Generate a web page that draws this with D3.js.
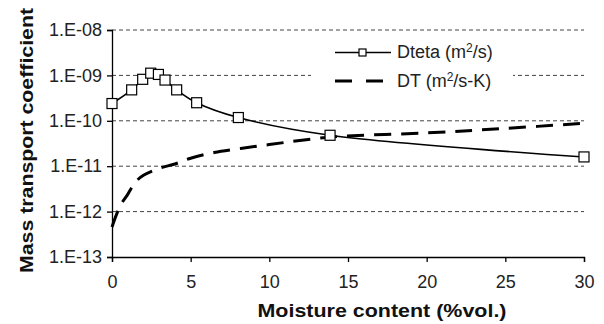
<!DOCTYPE html>
<html><head><meta charset="utf-8">
<script src="https://cdn.jsdelivr.net/npm/d3@7/dist/d3.min.js"></script>
<style>body{margin:0;background:#fff}svg{display:block}text{font-family:"Liberation Sans",Arial,sans-serif}</style>
</head><body><svg id="c" width="604" height="324"></svg>
<script>
const dtetaX = [0, 1.25, 1.95, 2.46, 2.95, 3.37, 4.11, 5.38, 8.03, 13.86, 30];
const dtetaY = [2.4e-10, 4.8e-10, 8.2e-10, 1.12e-9, 1.05e-9, 7.9e-10, 4.8e-10, 2.5e-10, 1.18e-10, 4.8e-11, 1.6e-11];
const dtX = [0, 0.5, 1, 1.5, 2, 3, 4, 5, 6.5, 8, 10, 14, 20, 25, 30];
const dtY = [4.6e-13, 1.3e-12, 2.4e-12, 4.5e-12, 6.3e-12, 9e-12, 1.12e-11, 1.5e-11, 2.0e-11, 2.4e-11, 3.0e-11, 4.4e-11, 5.4e-11, 6.8e-11, 8.8e-11];
const xTicks = [0, 5, 10, 15, 20, 25, 30];
const yTicks = [1e-13, 1e-12, 1e-11, 1e-10, 1e-9, 1e-8];
const yTickLabels = ["1.E-13", "1.E-12", "1.E-11", "1.E-10", "1.E-09", "1.E-08"];

const svg = d3.select("#c");
const L = 112, R = 584, T = 30, B = 257;
const x = d3.scaleLinear().domain([0, 30]).range([L, R]);
const y = d3.scaleLog().domain([1e-13, 1e-8]).range([B, T]);

// gridlines
svg.append("g").selectAll("line").data(yTicks.slice(1)).join("line")
  .attr("x1", L).attr("x2", R).attr("y1", d => y(d)).attr("y2", d => y(d))
  .attr("stroke", "#444").attr("stroke-width", 1).attr("stroke-dasharray", "4,3");

// axes
const yAxis = svg.append("g").attr("transform", `translate(${L},0)`)
  .call(d3.axisLeft(y).tickValues(yTicks).tickFormat((d, i) => yTickLabels[i]).tickSize(5).tickPadding(5));
const xAxis = svg.append("g").attr("transform", `translate(0,${B})`)
  .call(d3.axisBottom(x).tickValues(xTicks).tickSize(5).tickPadding(13));
[yAxis, xAxis].forEach(a => {
  a.select(".domain").attr("stroke", "#000").attr("stroke-width", 1.3);
  a.selectAll(".tick line").attr("stroke", "#000").attr("stroke-width", 1.3);
  a.selectAll(".tick text").attr("font-size", 18).attr("fill", "#222")
   .attr("font-family", '"Liberation Sans",Arial,sans-serif');
});

// DT dashed
const dtData = dtX.map((v, i) => [v, dtY[i]]);
svg.append("path").datum(dtData)
  .attr("d", d3.line().x(d => x(d[0])).y(d => y(d[1])).curve(d3.curveCatmullRom.alpha(0.5)))
  .attr("fill", "none").attr("stroke", "#000").attr("stroke-width", 3).attr("stroke-dasharray", "17,10");

// Dteta
const dData = dtetaX.map((v, i) => [v, dtetaY[i]]);
svg.append("path").datum(dData)
  .attr("d", d3.line().x(d => x(d[0])).y(d => y(d[1])).curve(d3.curveCatmullRom.alpha(0.5)))
  .attr("fill", "none").attr("stroke", "#000").attr("stroke-width", 1.6);
svg.append("g").selectAll("rect").data(dData).join("rect")
  .attr("x", d => x(d[0]) - 5).attr("y", d => y(d[1]) - 5).attr("width", 10).attr("height", 10)
  .attr("fill", "#fff").attr("stroke", "#000").attr("stroke-width", 1.2);

// legend
const lg = svg.append("g");
lg.append("rect").attr("x", 311).attr("y", 38).attr("width", 202).attr("height", 60).attr("fill", "#fff");
lg.append("line").attr("x1", 335).attr("x2", 391).attr("y1", 52.5).attr("y2", 52.5).attr("stroke", "#000").attr("stroke-width", 1.6);
lg.append("rect").attr("x", 359).attr("y", 49).attr("width", 7).attr("height", 7).attr("fill", "#fff").attr("stroke", "#000").attr("stroke-width", 1.2);
lg.append("line").attr("x1", 335).attr("x2", 385).attr("y1", 81).attr("y2", 81).attr("stroke", "#000").attr("stroke-width", 3).attr("stroke-dasharray", "17,14");
const t1 = lg.append("text").attr("x", 397).attr("y", 58).attr("font-size", 18).attr("fill", "#222");
t1.append("tspan").text("Dteta (m");
t1.append("tspan").text("2").attr("font-size", 12).attr("dy", -6);
t1.append("tspan").text("/s)").attr("dy", 6);
const t2 = lg.append("text").attr("x", 397).attr("y", 87).attr("font-size", 18).attr("fill", "#222");
t2.append("tspan").text("DT (m");
t2.append("tspan").text("2").attr("font-size", 12).attr("dy", -6);
t2.append("tspan").text("/s-K)").attr("dy", 6);

// titles
svg.append("text").attr("transform", `translate(33,140.5) rotate(-90)`).attr("text-anchor", "middle")
  .attr("font-size", 19).attr("font-weight", "bold").attr("fill", "#111")
  .attr("textLength", 265).attr("lengthAdjust", "spacingAndGlyphs").text("Mass transport coefficient");
svg.append("text").attr("x", 382).attr("y", 316.5).attr("text-anchor", "middle")
  .attr("font-size", 19).attr("font-weight", "bold").attr("fill", "#111")
  .attr("textLength", 249).attr("lengthAdjust", "spacingAndGlyphs").text("Moisture content (%vol.)");
</script></body></html>
